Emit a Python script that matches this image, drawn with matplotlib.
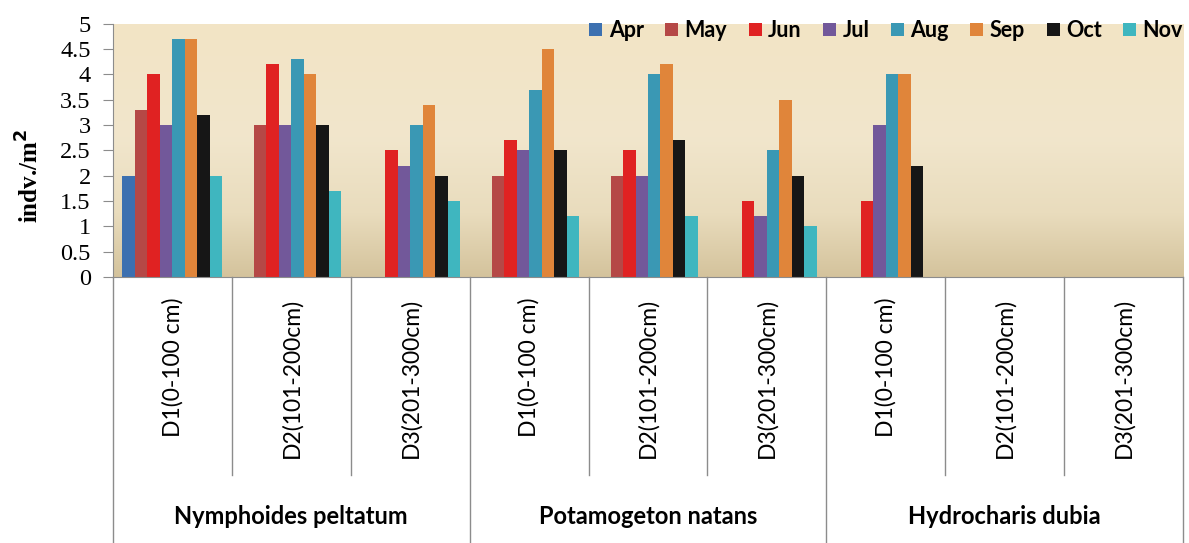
import numpy as np
import matplotlib.pyplot as plt
from matplotlib.colors import LinearSegmentedColormap

# data
depths = ['D1(0-100 cm)', 'D2(101-200cm)', 'D3(201-300cm)'] * 3
species = ['Nymphoides peltatum', 'Potamogeton natans', 'Hydrocharis dubia']
months = ['Apr', 'May', 'Jun', 'Jul', 'Aug', 'Sep', 'Oct', 'Nov']

apr = [2.0, 0, 0, 0, 0, 0, 0, 0, 0]
may = [3.3, 3.0, 0, 2.0, 2.0, 0, 0, 0, 0]
jun = [4.0, 4.2, 2.5, 2.7, 2.5, 1.5, 1.5, 0, 0]
jul = [3.0, 3.0, 2.2, 2.5, 2.0, 1.2, 3.0, 0, 0]
aug = [4.7, 4.3, 3.0, 3.7, 4.0, 2.5, 4.0, 0, 0]
sep = [4.7, 4.0, 3.4, 4.5, 4.2, 3.5, 4.0, 0, 0]
octo = [3.2, 3.0, 2.0, 2.5, 2.7, 2.0, 2.2, 0, 0]
nov = [2.0, 1.7, 1.5, 1.2, 1.2, 1.0, 0, 0, 0]
series = [apr, may, jun, jul, aug, sep, octo, nov]

colors = ['#3c70b0', '#b54846', '#e02222', '#72589a', '#3a98b4',
          '#e0853a', '#161616', '#3fb6bf']

sans = ['Lato', 'DejaVu Sans']
serif = ['Liberation Serif', 'DejaVu Serif']

fig = plt.figure(figsize=(11.89, 5.43), dpi=100)
ax = fig.add_axes([0.095, 0.49, 0.9, 0.466])

# plot area gradient background
bg = LinearSegmentedColormap.from_list(
    'bg', [(0.0, '#d4c39c'), (0.25, '#e9dcbd'), (0.55, '#f1e6cc'),
           (1.0, '#f3e4c5')])
grad = np.linspace(1, 0, 256).reshape(-1, 1)
ax.imshow(grad, cmap=bg, extent=[0, 1, 0, 1], transform=ax.transAxes,
          aspect='auto', zorder=0, vmin=0, vmax=1)

x = np.arange(len(depths))
w = 0.105
for k, (vals, c, m) in enumerate(zip(series, colors, months)):
    ax.bar(x + (k - 3.5) * w, vals, w, color=c, label=m, zorder=2,
           linewidth=0)

ax.set_xlim(-0.5, len(depths) - 0.5)
ax.set_ylim(0, 5)
yt = np.arange(0, 5.01, 0.5)
ax.set_yticks(yt)
ax.set_yticklabels([f'{v:g}' for v in yt], family=serif, fontsize=17.5)
ax.tick_params(axis='y', direction='out', length=7, color='#8c8c8c',
               pad=9)
ax.set_xticks([])
for s in ['top', 'right']:
    ax.spines[s].set_visible(False)
ax.spines['left'].set_color('#8c8c8c')
ax.spines['bottom'].set_color('#8c8c8c')
ax.spines['left'].set_zorder(3)

ax.set_ylabel('indv./m$^\\mathbf{2}$', family=serif, fontsize=18,
              fontweight='bold')
ax.yaxis.set_label_coords(-0.065, 0.40)

# multi-level category axis
tr = ax.get_xaxis_transform()
lc = '#8c8c8c'
for i, d in enumerate(depths):
    ax.text(x[i], -0.083, d, rotation=90, ha='center', va='top',
            transform=tr, family=sans, fontsize=16.5)
    if i % 3 != 0:
        ax.plot([i - 0.5, i - 0.5], [0, -0.783], color=lc, lw=1,
                transform=tr, clip_on=False)
for g in range(4):
    ax.plot([g * 3 - 0.5, g * 3 - 0.5], [0, -1.06], color=lc, lw=1,
            transform=tr, clip_on=False)
for g, sp in enumerate(species):
    ax.text(g * 3 + 1, -0.945, sp, ha='center', va='center', transform=tr,
            family=sans, fontsize=17, fontweight='bold')

ax.legend(loc='center right', bbox_to_anchor=(1.0, 0.972), ncol=8,
          frameon=False,
          prop={'family': sans, 'size': 15.5, 'weight': 'bold'},
          handlelength=0.6, handleheight=0.55, handletextpad=0.3,
          columnspacing=1.0, borderpad=0, borderaxespad=0)

fig.savefig('out.png', dpi=100)
